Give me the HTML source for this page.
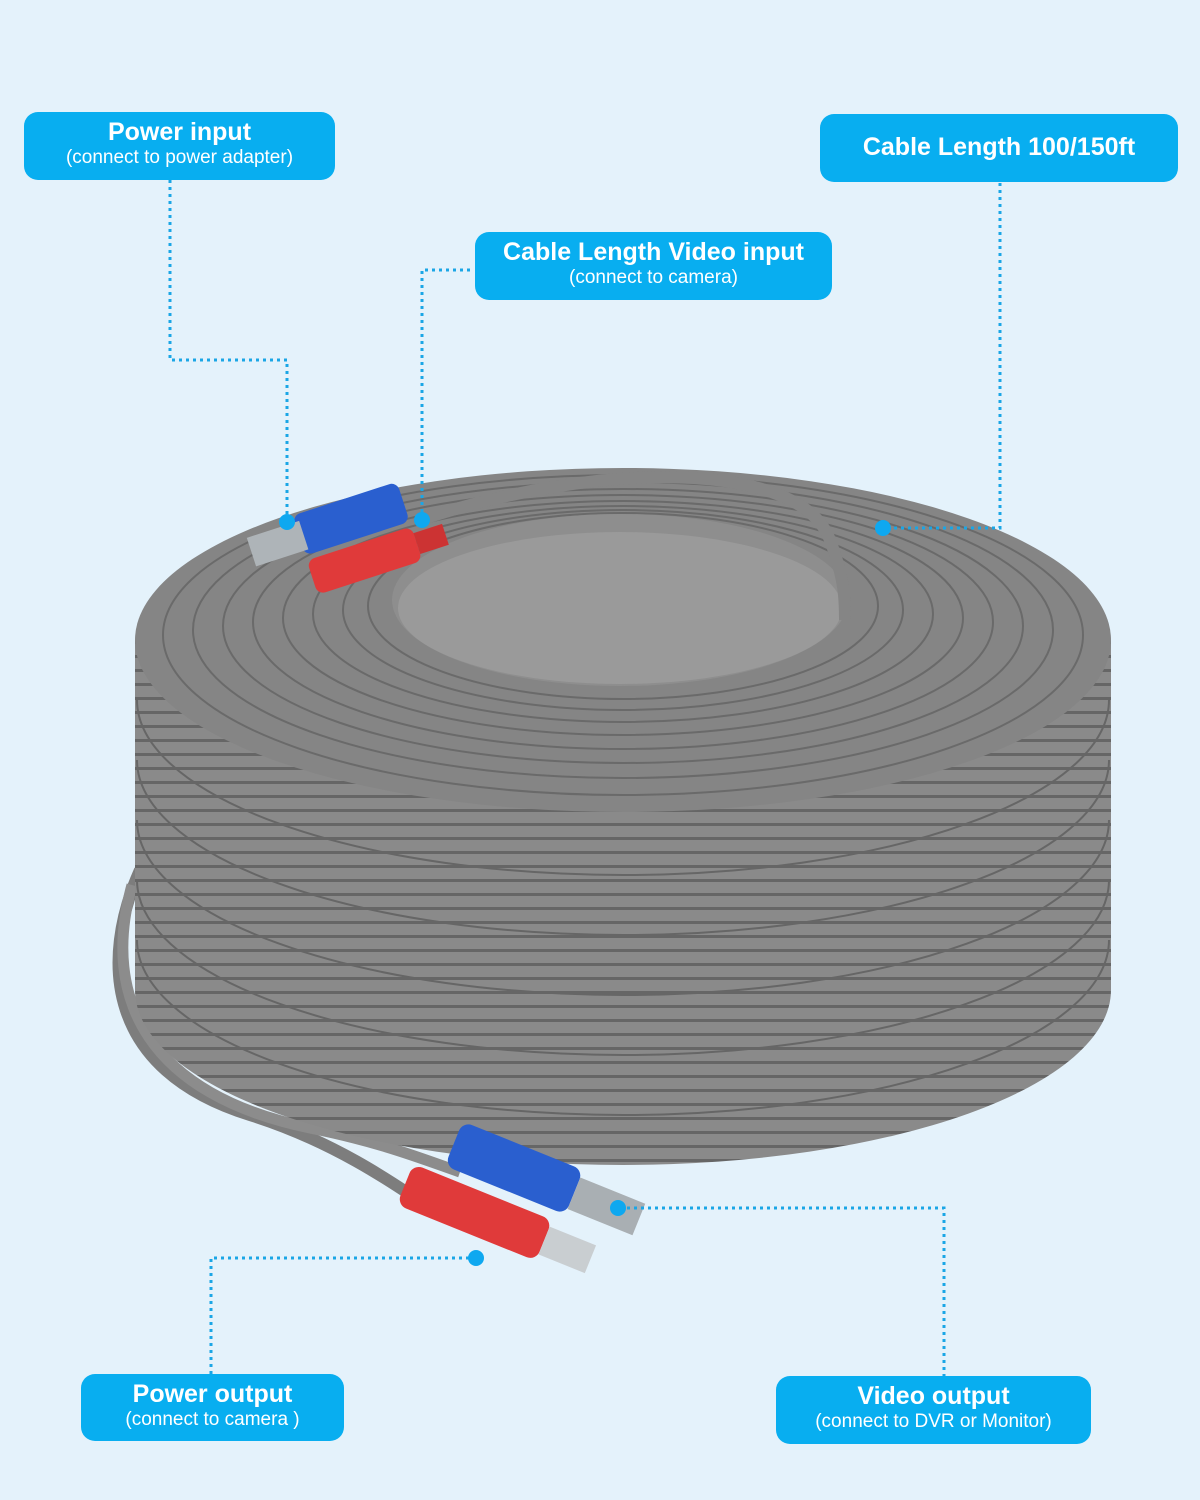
<!DOCTYPE html>
<html><head><meta charset="utf-8"><style>
html,body{margin:0;padding:0;background:#e4f2fb;}
.lab{position:absolute;background:#08aef0;color:#fff;border-radius:14px;text-align:center;font-family:"Liberation Sans",sans-serif;}
.lab b{display:block;font-size:25px;font-weight:bold;}
.lab span{display:block;font-size:19px;}
</style></head><body>
<div style="position:relative;width:1200px;height:1500px;overflow:hidden;background:#e4f2fb;">
<svg width="1200" height="1500" style="position:absolute;left:0;top:0">
<defs>
<pattern id="str" width="20" height="14" patternUnits="userSpaceOnUse">
<rect width="20" height="14" fill="#8a8a8a"/><rect y="11" width="20" height="3" fill="#666"/>
</pattern>
</defs>
<!-- lower loose cables -->
<path d="M140 870 C100 960 105 1070 250 1115 C330 1140 390 1180 440 1215" stroke="#7d7d7d" stroke-width="12" fill="none"/>
<path d="M132 885 C100 1000 150 1095 310 1128 C380 1142 420 1158 460 1172" stroke="#8c8c8c" stroke-width="11" fill="none"/>
<!-- cylinder side -->
<path d="M135 640 L135 990 A488 175 0 0 0 1111 990 L1111 640 Z" fill="url(#str)"/>
<g fill="none" stroke="#666" stroke-width="2">
<path d="M137 700 A486 175 0 0 0 1109 700"/><path d="M137 760 A486 175 0 0 0 1109 760"/>
<path d="M137 820 A486 175 0 0 0 1109 820"/><path d="M137 880 A486 175 0 0 0 1109 880"/>
<path d="M137 940 A486 175 0 0 0 1109 940"/>
</g>
<!-- top -->
<ellipse cx="623" cy="640" rx="488" ry="172" fill="#858585"/>
<g fill="none" stroke="#6a6a6a" stroke-width="2">
<ellipse cx="623" cy="635" rx="460" ry="160"/><ellipse cx="623" cy="630" rx="430" ry="148"/>
<ellipse cx="623" cy="626" rx="400" ry="137"/><ellipse cx="623" cy="622" rx="370" ry="127"/>
<ellipse cx="623" cy="618" rx="340" ry="117"/><ellipse cx="623" cy="614" rx="310" ry="108"/>
<ellipse cx="623" cy="610" rx="280" ry="100"/><ellipse cx="623" cy="606" rx="255" ry="93"/>
</g>
<ellipse cx="620" cy="600" rx="228" ry="86" fill="#8e8e8e"/>
<ellipse cx="620" cy="608" rx="222" ry="76" fill="#9a9a9a"/>
<path d="M420 520 C600 460 800 460 830 540 C845 580 845 600 845 620" stroke="#858585" stroke-width="12" fill="none"/>
<!-- top connectors -->
<g transform="rotate(-18 330 535)">
<rect x="300" y="505" width="110" height="42" rx="8" fill="#2a5fcf"/>
<rect x="250" y="512" width="55" height="30" fill="#aeb4b8"/>
<rect x="300" y="552" width="110" height="36" rx="8" fill="#e03a3a"/>
<rect x="410" y="559" width="30" height="22" fill="#c33"/>
</g>
<!-- bottom connectors -->
<g transform="rotate(22 520 1220)">
<rect x="430" y="1150" width="130" height="48" rx="10" fill="#2a5fcf"/>
<rect x="560" y="1158" width="70" height="34" fill="#a9afb3"/>
<rect x="400" y="1208" width="150" height="44" rx="10" fill="#e03a3a"/>
<rect x="550" y="1215" width="50" height="30" fill="#c9ced1"/>
</g>
<!-- dotted connectors -->
<g stroke="#1aa6e6" stroke-width="3" stroke-dasharray="3 4" fill="none">
<path d="M170 180 V360 H287 V520"/>
<path d="M470 270 H422 V520"/>
<path d="M1000 183 V528 H883"/>
<path d="M620 1208 H944 V1378"/>
<path d="M476 1258 H211 V1375"/>
</g>
<g fill="#0ea8f0">
<circle cx="287" cy="522" r="8"/><circle cx="422" cy="520" r="8"/><circle cx="883" cy="528" r="8"/>
<circle cx="618" cy="1208" r="8"/><circle cx="476" cy="1258" r="8"/>
</g>
</svg>
<div class="lab" style="left:24px;top:112px;width:311px;height:68px;"><b style="padding-top:6px">Power input</b><span>(connect to power adapter)</span></div>
<div class="lab" style="left:820px;top:114px;width:358px;height:68px;"><b style="line-height:66px">Cable Length 100/150ft</b></div>
<div class="lab" style="left:475px;top:232px;width:357px;height:68px;"><b style="padding-top:6px">Cable Length Video input</b><span>(connect to camera)</span></div>
<div class="lab" style="left:81px;top:1374px;width:263px;height:67px;"><b style="padding-top:6px">Power output</b><span>(connect to camera )</span></div>
<div class="lab" style="left:776px;top:1376px;width:315px;height:68px;"><b style="padding-top:6px">Video output</b><span>(connect to DVR or Monitor)</span></div>
</div>
</body></html>
